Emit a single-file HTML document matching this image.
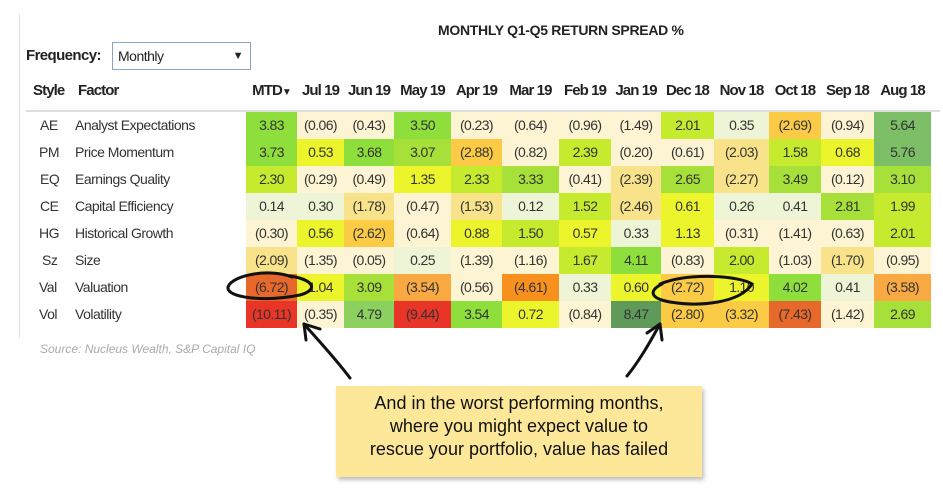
<!DOCTYPE html>
<html><head><meta charset="utf-8"><style>
body{margin:0;width:943px;height:503px;background:#fff;position:relative;overflow:hidden;font-family:"Liberation Sans",sans-serif;color:#222}
.a{position:absolute}
.row{position:absolute;left:246px;height:27px;display:flex}
.row div{height:27px;line-height:27px;text-align:center;font-size:14px;letter-spacing:-0.6px;color:#333;white-space:nowrap}
.g6{background:#5f9a5a}.g5{background:#7dbf66}.g4{background:#8fdf3c}.g4b{background:#8cd060}.g3{background:#a8e03a}.g2{background:#c6ea2e}.g1{background:#ecf52c}.g0{background:#eef5d6}
.n0{background:#fcf4d2}.n1{background:#f9e38a}.n2{background:#fccb45}.n3{background:#f9a942}.n3b{background:#f7901c}.n4{background:#e8672a}.n5{background:#e83528}
.lab{position:absolute;font-size:14px;color:#333;height:27px;line-height:27px;letter-spacing:-0.5px;white-space:nowrap}
.hd{position:absolute;top:82px;font-size:15px;font-weight:bold;color:#222;text-align:center;white-space:nowrap;letter-spacing:-0.9px}
</style></head><body>
<div class="a" style="left:19px;top:14px;width:1px;height:324px;background:#ddd"></div>
<div class="a" style="left:438px;top:22px;font-size:14px;font-weight:bold;letter-spacing:-0.3px">MONTHLY Q1-Q5 RETURN SPREAD %</div>
<div class="a" style="left:26px;top:47px;font-size:15px;font-weight:bold;letter-spacing:-0.6px">Frequency:</div>
<div class="a" style="left:112px;top:42px;width:137px;height:26px;border:1px solid #8aa4c8;font-size:14px;line-height:26px;letter-spacing:-0.5px"><span style="margin-left:5px">Monthly</span><span style="position:absolute;right:7px;font-size:11px">▼</span></div>
<div class="hd" style="left:33px">Style</div>
<div class="hd" style="left:78px">Factor</div>
<div class="hd" style="left:246px;width:51px">MTD<span style="font-size:10px">▼</span></div>
<div class="hd" style="left:297px;width:47px">Jul 19</div>
<div class="hd" style="left:344px;width:50px">Jun 19</div>
<div class="hd" style="left:394px;width:57px">May 19</div>
<div class="hd" style="left:451px;width:51px">Apr 19</div>
<div class="hd" style="left:502px;width:57px">Mar 19</div>
<div class="hd" style="left:559px;width:52px">Feb 19</div>
<div class="hd" style="left:611px;width:50px">Jan 19</div>
<div class="hd" style="left:661px;width:53px">Dec 18</div>
<div class="hd" style="left:714px;width:55px">Nov 18</div>
<div class="hd" style="left:769px;width:52px">Oct 18</div>
<div class="hd" style="left:821px;width:53px">Sep 18</div>
<div class="hd" style="left:874px;width:57px">Aug 18</div>
<div class="a" style="left:26px;top:110px;width:914px;height:2px;background:#ddd"></div>

<div class="lab" style="left:40px;top:112px">AE</div><div class="lab" style="left:75px;top:112px">Analyst Expectations</div>
<div class="lab" style="left:39px;top:139px">PM</div><div class="lab" style="left:75px;top:139px">Price Momentum</div>
<div class="lab" style="left:40px;top:166px">EQ</div><div class="lab" style="left:75px;top:166px">Earnings Quality</div>
<div class="lab" style="left:40px;top:193px">CE</div><div class="lab" style="left:75px;top:193px">Capital Efficiency</div>
<div class="lab" style="left:39px;top:220px">HG</div><div class="lab" style="left:75px;top:220px">Historical Growth</div>
<div class="lab" style="left:42px;top:247px">Sz</div><div class="lab" style="left:75px;top:247px">Size</div>
<div class="lab" style="left:39px;top:274px">Val</div><div class="lab" style="left:75px;top:274px">Valuation</div>
<div class="lab" style="left:39px;top:301px">Vol</div><div class="lab" style="left:75px;top:301px">Volatility</div>

<div class="row" style="top:112px"><div class="g4" style="width:51px">3.83</div><div class="n0" style="width:47px">(0.06)</div><div class="n0" style="width:50px">(0.43)</div><div class="g4" style="width:57px">3.50</div><div class="n0" style="width:51px">(0.23)</div><div class="n0" style="width:57px">(0.64)</div><div class="n0" style="width:52px">(0.96)</div><div class="n0" style="width:50px">(1.49)</div><div class="g2" style="width:53px">2.01</div><div class="g0" style="width:55px">0.35</div><div class="n2" style="width:52px">(2.69)</div><div class="n0" style="width:53px">(0.94)</div><div class="g5" style="width:57px">5.64</div></div>
<div class="row" style="top:139px"><div class="g4" style="width:51px">3.73</div><div class="g1" style="width:47px">0.53</div><div class="g4" style="width:50px">3.68</div><div class="g3" style="width:57px">3.07</div><div class="n2" style="width:51px">(2.88)</div><div class="n0" style="width:57px">(0.82)</div><div class="g2" style="width:52px">2.39</div><div class="n0" style="width:50px">(0.20)</div><div class="n0" style="width:53px">(0.61)</div><div class="n1" style="width:55px">(2.03)</div><div class="g2" style="width:52px">1.58</div><div class="g1" style="width:53px">0.68</div><div class="g5" style="width:57px">5.76</div></div>
<div class="row" style="top:166px"><div class="g2" style="width:51px">2.30</div><div class="n0" style="width:47px">(0.29)</div><div class="n0" style="width:50px">(0.49)</div><div class="g1" style="width:57px">1.35</div><div class="g2" style="width:51px">2.33</div><div class="g3" style="width:57px">3.33</div><div class="n0" style="width:52px">(0.41)</div><div class="n1" style="width:50px">(2.39)</div><div class="g3" style="width:53px">2.65</div><div class="n1" style="width:55px">(2.27)</div><div class="g3" style="width:52px">3.49</div><div class="n0" style="width:53px">(0.12)</div><div class="g3" style="width:57px">3.10</div></div>
<div class="row" style="top:193px"><div class="g0" style="width:51px">0.14</div><div class="g0" style="width:47px">0.30</div><div class="n1" style="width:50px">(1.78)</div><div class="n0" style="width:57px">(0.47)</div><div class="n1" style="width:51px">(1.53)</div><div class="g0" style="width:57px">0.12</div><div class="g2" style="width:52px">1.52</div><div class="n1" style="width:50px">(2.46)</div><div class="g1" style="width:53px">0.61</div><div class="g0" style="width:55px">0.26</div><div class="g0" style="width:52px">0.41</div><div class="g3" style="width:53px">2.81</div><div class="g2" style="width:57px">1.99</div></div>
<div class="row" style="top:220px"><div class="n0" style="width:51px">(0.30)</div><div class="g1" style="width:47px">0.56</div><div class="n2" style="width:50px">(2.62)</div><div class="n0" style="width:57px">(0.64)</div><div class="g1" style="width:51px">0.88</div><div class="g2" style="width:57px">1.50</div><div class="g1" style="width:52px">0.57</div><div class="g0" style="width:50px">0.33</div><div class="g1" style="width:53px">1.13</div><div class="n0" style="width:55px">(0.31)</div><div class="n0" style="width:52px">(1.41)</div><div class="n0" style="width:53px">(0.63)</div><div class="g2" style="width:57px">2.01</div></div>
<div class="row" style="top:247px"><div class="n1" style="width:51px">(2.09)</div><div class="n0" style="width:47px">(1.35)</div><div class="n0" style="width:50px">(0.05)</div><div class="g0" style="width:57px">0.25</div><div class="n0" style="width:51px">(1.39)</div><div class="n0" style="width:57px">(1.16)</div><div class="g2" style="width:52px">1.67</div><div class="g4" style="width:50px">4.11</div><div class="n0" style="width:53px">(0.83)</div><div class="g2" style="width:55px">2.00</div><div class="n0" style="width:52px">(1.03)</div><div class="n1" style="width:53px">(1.70)</div><div class="n0" style="width:57px">(0.95)</div></div>
<div class="row" style="top:274px"><div class="n4" style="width:51px">(6.72)</div><div class="g1" style="width:47px">1.04</div><div class="g3" style="width:50px">3.09</div><div class="n3" style="width:57px">(3.54)</div><div class="n0" style="width:51px">(0.56)</div><div class="n3b" style="width:57px">(4.61)</div><div class="g0" style="width:52px">0.33</div><div class="g1" style="width:50px">0.60</div><div class="n2" style="width:53px">(2.72)</div><div class="g1" style="width:55px">1.10</div><div class="g4" style="width:52px">4.02</div><div class="g0" style="width:53px">0.41</div><div class="n3" style="width:57px">(3.58)</div></div>
<div class="row" style="top:301px"><div class="n5" style="width:51px">(10.11)</div><div class="n0" style="width:47px">(0.35)</div><div class="g4b" style="width:50px">4.79</div><div class="n5" style="width:57px">(9.44)</div><div class="g4" style="width:51px">3.54</div><div class="g1" style="width:57px">0.72</div><div class="n0" style="width:52px">(0.84)</div><div class="g6" style="width:50px">8.47</div><div class="n2" style="width:53px">(2.80)</div><div class="n2" style="width:55px">(3.32)</div><div class="n4" style="width:52px">(7.43)</div><div class="n0" style="width:53px">(1.42)</div><div class="g3" style="width:57px">2.69</div></div>

<div class="a" style="left:40px;top:342px;font-size:12px;font-style:italic;color:#aaa">Source: Nucleus Wealth, S&amp;P Capital IQ</div>

<div class="a" style="left:336px;top:386px;width:366px;height:91px;background:#fde89a;box-shadow:2px 3px 4px rgba(0,0,0,0.25)"></div>
<div class="a" style="left:336px;top:392px;width:366px;text-align:center;font-size:18px;line-height:23px;color:#111">And in the worst performing months,<br>where you might expect value to<br>rescue your portfolio, value has failed</div>

<svg class="a" style="left:0;top:0" width="943" height="503">
<g fill="none" stroke="#111" stroke-width="3" stroke-linecap="round">
<path d="M292,277 C270,268 232,275 228,287 C226,298 265,302 300,295 C318,290 315,280 290,276"/>
<path d="M660,284 C690,272 740,276 752,284 C740,303 700,307 670,302 C648,298 650,290 662,284"/>
<path d="M350,378 C335,358 318,340 304,324"/>
<path d="M304,324 L306,340 M304,324 L320,329"/>
<path d="M627,376 C640,360 650,342 660,324"/>
<path d="M660,324 L647,333 M660,324 L662,340"/>
</g>
</svg>
</body></html>
